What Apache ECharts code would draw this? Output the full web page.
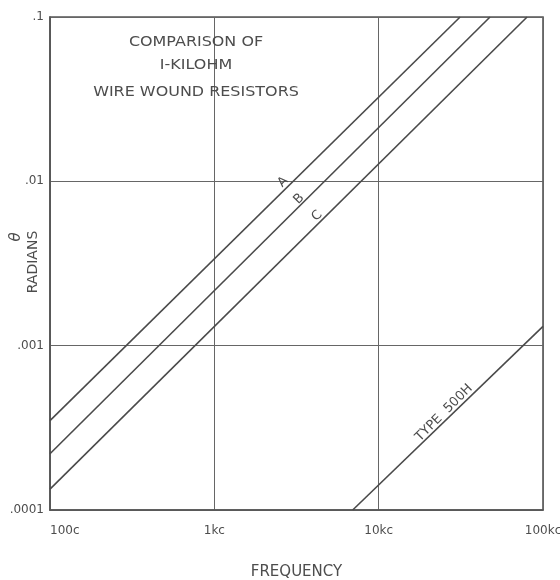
<!DOCTYPE html>
<html>
<head>
<meta charset="utf-8">
<script src="https://cdn.jsdelivr.net/npm/echarts@6/dist/echarts.min.js"></script>
<style>
html,body{margin:0;padding:0;background:#fff}
#container{width:560px;height:580px}
</style>
</head>
<body>
<div id="container"></div>
<script>
// axis tick labels (one per decade)
var freqLabels = ['100c', '1kc', '10kc', '100kc'];
var thetaLabels = ['.0001', '.001', '.01', '.1'];

// curves: [frequency (c/s), theta (radians)]
var lineA = [[100, 3.5e-4], [31300, 0.1]];
var lineB = [[100, 2.2e-4], [47600, 0.1]];
var lineC = [[100, 1.34e-4], [80000, 0.1]];
var line500H = [[6950, 1e-4], [100000, 1.31e-3]];

// curve labels: [frequency, theta, text]
var curveLabels = [
  [2620, 0.0099, 'A'],
  [3280, 0.0078, 'B'],
  [4220, 0.00615, 'C'],
  [25000, 3.9e-4, 'TYPE  500H']
];

var ink = '#4a4a4a';
var txt = '#4d4d4d';
var font = 'DejaVu Sans';

function decadeLabel(list, v) {
  var i = Math.round(Math.log10(v)) - Math.round(Math.log10(list === freqLabels ? 100 : 1e-4));
  return list[i] || '';
}

function lineSeries(name, data) {
  return {
    name: name,
    type: 'line',
    data: data,
    symbol: 'none',
    silent: true,
    lineStyle: {color: ink, width: 1.6}
  };
}

var dom = document.getElementById('container');
var myChart = echarts.init(dom);
var option = {
  backgroundColor: '#fff',
  animation: false,
  grid: {
    left: 50, top: 17, width: 493, height: 493,
    outerBoundsMode: 'none', containLabel: false,
    show: true, borderColor: '#555', borderWidth: 1.6, backgroundColor: 'transparent'
  },
  xAxis: {
    type: 'log', logBase: 10, min: 100, max: 100000, interval: 1,
    name: 'FREQUENCY', nameLocation: 'middle', nameGap: 55,
    nameTextStyle: {color: txt, fontSize: 15, fontFamily: font},
    axisLine: {show: true, lineStyle: {color: '#555', width: 1.6}},
    axisTick: {show: false},
    axisLabel: {
      color: txt, fontSize: 12, fontFamily: font, margin: 15,
      alignMinLabel: 'left',
      formatter: function (v) { return decadeLabel(freqLabels, v); }
    },
    splitLine: {show: true, lineStyle: {color: '#666', width: 1}}
  },
  yAxis: {
    type: 'log', logBase: 10, min: 0.0001, max: 0.1, interval: 1,
    axisLine: {show: true, lineStyle: {color: '#555', width: 1.6}},
    axisTick: {show: false},
    axisLabel: {
      color: txt, fontSize: 12, fontFamily: font, margin: 6,
      formatter: function (v) { return decadeLabel(thetaLabels, v); }
    },
    splitLine: {show: true, lineStyle: {color: '#666', width: 1}}
  },
  series: [
    lineSeries('A', lineA),
    lineSeries('B', lineB),
    lineSeries('C', lineC),
    lineSeries('TYPE 500H', line500H)
  ]
};
myChart.setOption(option);

// text: title block, y-axis name and the curve labels
var g = [];
var titleLines = [['COMPARISON OF', 42], ['I-KILOHM', 65], ['WIRE WOUND RESISTORS', 92]];
titleLines.forEach(function (t) {
  g.push({
    type: 'text', x: 196, y: t[1], scaleX: 1.14,
    style: {text: t[0], fill: txt, fontSize: 14, fontFamily: font, align: 'center', verticalAlign: 'middle'}
  });
});
g.push({
  type: 'text', x: 33, y: 262, rotation: Math.PI / 2,
  style: {text: 'RADIANS', fill: txt, fontSize: 14, fontFamily: font, align: 'center', verticalAlign: 'middle'}
});
g.push({
  type: 'text', x: 16, y: 237, rotation: Math.PI / 2,
  style: {text: 'θ', fill: txt, fontSize: 15, fontStyle: 'italic', fontFamily: font, align: 'center', verticalAlign: 'middle'}
});
curveLabels.forEach(function (c) {
  var p = myChart.convertToPixel({gridIndex: 0}, [c[0], c[1]]);
  g.push({
    type: 'text', x: p[0], y: p[1], rotation: Math.PI / 4,
    style: {text: c[2], fill: txt, fontSize: 13, fontFamily: font, align: 'center', verticalAlign: 'middle'}
  });
});
myChart.setOption({graphic: g});
</script>
</body>
</html>
